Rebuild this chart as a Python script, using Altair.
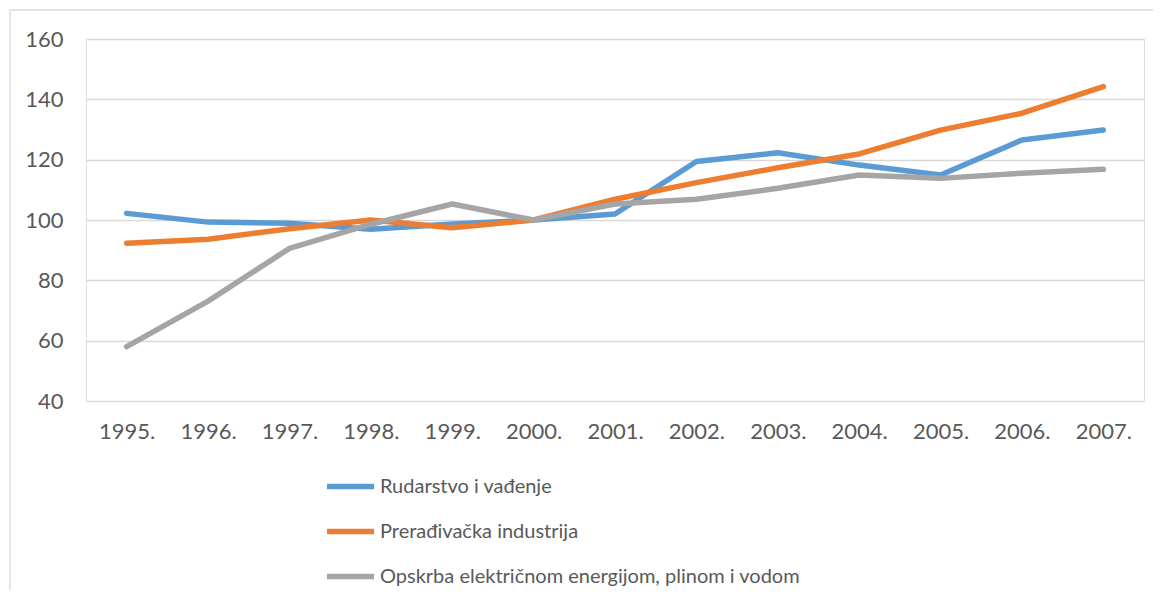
import altair as alt
import pandas as pd

years = ["1995.", "1996.", "1997.", "1998.", "1999.", "2000.", "2001.",
         "2002.", "2003.", "2004.", "2005.", "2006.", "2007."]
series_names = ["Rudarstvo i vađenje",
                "Prerađivačka industrija",
                "Opskrba električnom energijom, plinom i vodom"]
rudarstvo = [102.2, 99.3, 98.9, 96.9, 98.7, 100.0, 102.0, 119.4, 122.3, 118.2, 114.9, 126.5, 129.8]
preradivacka = [92.3, 93.6, 97.1, 100.0, 97.4, 100.0, 106.9, 112.4, 117.3, 121.9, 129.8, 135.4, 144.2]
opskrba = [58.0, 73.1, 90.6, 98.6, 105.3, 100.0, 105.3, 106.9, 110.5, 114.9, 113.8, 115.5, 116.8]
colors = ["#5B9BD5", "#ED7D31", "#A5A5A5"]

rows = []
for name, vals in zip(series_names, [rudarstvo, preradivacka, opskrba]):
    for i, (y, v) in enumerate(zip(years, vals)):
        rows.append({"year": y, "value": v, "series": name, "order": i})
df = pd.DataFrame(rows)

FONT = "Lato"
TXT = "#595959"
GRID = "#D9D9D9"
FS = 22

lines = alt.Chart(df).mark_line(strokeWidth=5.5, strokeCap="round", strokeJoin="round").encode(
    x=alt.X("year:N", sort=years, title=None,
            scale=alt.Scale(type="point", padding=0.5),
            axis=alt.Axis(labelAngle=0, ticks=False, domain=False, grid=False,
                          labelPadding=20, labelFontSize=FS, labelFont=FONT,
                          labelColor=TXT)),
    y=alt.Y("value:Q", title=None,
            scale=alt.Scale(domain=[40, 160], nice=False, zero=False),
            axis=alt.Axis(values=[40, 60, 80, 100, 120, 140, 160], ticks=False,
                          domain=False, gridColor=GRID, gridWidth=1.3,
                          labelPadding=23, labelFontSize=FS, labelFont=FONT,
                          labelColor=TXT)),
    color=alt.Color("series:N", sort=series_names,
                    scale=alt.Scale(domain=series_names, range=colors),
                    legend=alt.Legend(title=None, orient="none", legendX=238,
                                      legendY=421, direction="vertical",
                                      symbolType="stroke", symbolSize=2209,
                                      symbolStrokeWidth=5.5, labelOffset=3,
                                      labelFont=FONT, labelFontSize=20,
                                      labelColor=TXT, labelLimit=0,
                                      rowPadding=7, padding=0)),
    detail="series:N",
    order="order:Q",
)

anchor = pd.DataFrame({"a": [0]})
frame_top = alt.Chart(anchor).mark_rule(stroke=GRID, strokeWidth=1.3, clip=False).encode(
    x=alt.value(-76), x2=alt.value(1100), y=alt.value(-29)
)
frame_left = alt.Chart(anchor).mark_rule(stroke=GRID, strokeWidth=1.3, clip=False).encode(
    x=alt.value(-76), y=alt.value(-29), y2=alt.value(600)
)

chart = alt.layer(frame_top, frame_left, lines).properties(
    width=1058, height=362,
    autosize=alt.AutoSizeParams(type="none"),
    padding={"left": 78, "top": 31, "right": 9, "bottom": 189},
).configure_view(stroke=None).configure(background="white")

chart.save("out.html", embed_options={"renderer": "svg", "actions": False})
